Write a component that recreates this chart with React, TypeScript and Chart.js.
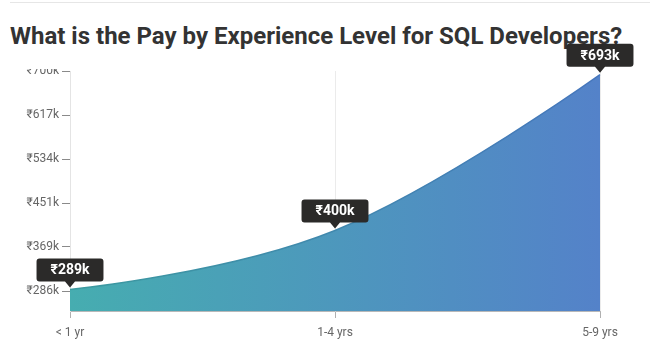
import React, { useEffect, useRef } from "react";
import { Chart, registerables } from "chart.js";

Chart.register(...registerables);

const categories = ["< 1 yr", "1-4 yrs", "5-9 yrs"];
const payValues = [289, 400, 693];
const yTickValues = [286, 369, 451, 534, 617, 700];
const yTickLabels = ["₹286k", "₹369k", "₹451k", "₹534k", "₹617k", "₹700k"];
const yMin = 248.4;
const yMax = 700;
const titleText = "What is the Pay by Experience Level for SQL Developers?";

const FONT = "Roboto, 'Noto Sans', sans-serif";

// spline smoothing like a classic "spline" series: end points have no handle,
// inner points get handles aligned with neighbours
const splineShape = {
  id: "splineShape",
  beforeDraw(chart: any) {
    const meta = chart.getDatasetMeta(0);
    const line = meta.dataset;
    if (!line) return;
    line.updateControlPoints(chart.chartArea, "x");
    const pts = meta.data;
    const smoothing = 1.5;
    const denom = smoothing + 1;
    for (let i = 0; i < pts.length; i++) {
      const p = pts[i];
      if (i === 0 || i === pts.length - 1) {
        p.cp1x = p.x;
        p.cp1y = p.y;
        p.cp2x = p.x;
        p.cp2y = p.y;
        continue;
      }
      const a = pts[i - 1];
      const b = pts[i + 1];
      const lx = (smoothing * p.x + a.x) / denom;
      let ly = (smoothing * p.y + a.y) / denom;
      const rx = (smoothing * p.x + b.x) / denom;
      let ry = (smoothing * p.y + b.y) / denom;
      if (rx !== lx) {
        const corr = ((ry - ly) * (rx - p.x)) / (rx - lx) + p.y - ry;
        ly += corr;
        ry += corr;
      }
      p.cp1x = lx;
      p.cp1y = ly;
      p.cp2x = rx;
      p.cp2y = ry;
    }
    delete line._path;
  },
};

const labelBoxes = {
  id: "labelBoxes",
  afterDraw(chart: any) {
    const { ctx, chartArea } = chart;
    // hide the upper part of the top y label, as in the reference
    ctx.save();
    ctx.fillStyle = "#ffffff";
    ctx.fillRect(0, chartArea.top - 20, chartArea.left - 1, 18);
    ctx.restore();

    const meta = chart.getDatasetMeta(0);
    const data = chart.data.datasets[0].data as number[];
    meta.data.forEach((pt: any, i: number) => {
      const text = "₹" + data[i] + "k";
      ctx.save();
      ctx.font = `bold 14px ${FONT}`;
      const tw = ctx.measureText(text).width;
      const w = tw + 28;
      const h = 23;
      const x = pt.x;
      const y = pt.y;
      const bottom = y - 8;
      const top = bottom - h;
      const left = x - w / 2;
      ctx.fillStyle = "#2b2a29";
      ctx.beginPath();
      const r = 3;
      ctx.moveTo(left + r, top);
      ctx.lineTo(left + w - r, top);
      ctx.quadraticCurveTo(left + w, top, left + w, top + r);
      ctx.lineTo(left + w, bottom - r);
      ctx.quadraticCurveTo(left + w, bottom, left + w - r, bottom);
      ctx.lineTo(x + 5, bottom);
      ctx.lineTo(x, bottom + 6);
      ctx.lineTo(x - 5, bottom);
      ctx.lineTo(left + r, bottom);
      ctx.quadraticCurveTo(left, bottom, left, bottom - r);
      ctx.lineTo(left, top + r);
      ctx.quadraticCurveTo(left, top, left + r, top);
      ctx.closePath();
      ctx.fill();
      ctx.fillStyle = "#ffffff";
      ctx.textAlign = "center";
      ctx.textBaseline = "middle";
      ctx.fillText(text, x, top + h / 2 + 1);
      ctx.restore();
    });
  },
};

export default function App() {
  const canvasRef = useRef<HTMLCanvasElement | null>(null);

  useEffect(() => {
    if (!canvasRef.current) return;
    const chart = new Chart(canvasRef.current, {
      type: "line",
      data: {
        labels: categories,
        datasets: [
          {
            data: payValues,
            fill: "start",
            tension: 0.4,
            pointRadius: 0,
            borderWidth: 1.5,
            borderColor: (context: any) => {
              const { chart } = context;
              const { ctx, chartArea } = chart;
              if (!chartArea) return "#3f9ea3";
              const g = ctx.createLinearGradient(chartArea.left, 0, chartArea.right, 0);
              g.addColorStop(0, "#3b9a9f");
              g.addColorStop(1, "#4676bd");
              return g;
            },
            backgroundColor: (context: any) => {
              const { chart } = context;
              const { ctx, chartArea } = chart;
              if (!chartArea) return "#46adb0";
              const g = ctx.createLinearGradient(chartArea.left, 0, chartArea.right, 0);
              g.addColorStop(0, "#46adb0");
              g.addColorStop(1, "#5482c9");
              return g;
            },
          },
        ],
      },
      options: {
        animation: false,
        responsive: false,
        maintainAspectRatio: false,
        layout: { padding: { top: 31, right: 50, left: 0, bottom: 0 } },
        plugins: {
          legend: { display: false },
          tooltip: { enabled: false },
          title: { display: false },
        },
        scales: {
          x: {
            offset: false,
            grid: {
              display: true,
              drawOnChartArea: true,
              color: "#ebebeb",
              tickColor: "#b0b0b0",
              tickLength: 7,
            },
            border: { display: true, color: "#b8b8b8" },
            ticks: {
              color: "#666666",
              font: { family: FONT, size: 12 },
              padding: 8,
              maxRotation: 0,
            },
            afterFit: (scale: any) => {
              scale.height = 48;
            },
          },
          y: {
            min: yMin,
            max: yMax,
            grid: {
              display: true,
              drawOnChartArea: false,
              tickColor: "#8a8a8a",
              tickLength: 8,
            },
            border: { display: true, color: "#e4e4e4" },
            afterBuildTicks: (scale: any) => {
              scale.ticks = yTickValues.map((v) => ({ value: v }));
            },
            ticks: {
              color: "#666666",
              font: { family: FONT, size: 12 },
              padding: 3,
              callback: (_v: any, i: number) => yTickLabels[i],
            },
            afterFit: (scale: any) => {
              scale.width = 70;
            },
          },
        },
      },
      plugins: [splineShape, labelBoxes],
    });
    return () => chart.destroy();
  }, []);

  return (
    <div
      style={{
        position: "fixed",
        left: 0,
        top: 0,
        width: 650,
        height: 359,
        background: "#ffffff",
        overflow: "hidden",
      }}
    >
      <div
        style={{
          position: "absolute",
          left: 10,
          right: 0,
          top: 2,
          height: 1,
          background: "#e6e6e6",
        }}
      />
      <div
        style={{
          position: "absolute",
          left: 10,
          top: 24,
          fontFamily: FONT,
          fontWeight: 700,
          fontSize: 24,
          lineHeight: "24px",
          color: "#333333",
          whiteSpace: "nowrap",
        }}
      >
        {titleText}
      </div>
      <canvas
        ref={canvasRef}
        width={650}
        height={319}
        style={{ position: "absolute", left: 0, top: 40, width: 650, height: 319 }}
      />
    </div>
  );
}
